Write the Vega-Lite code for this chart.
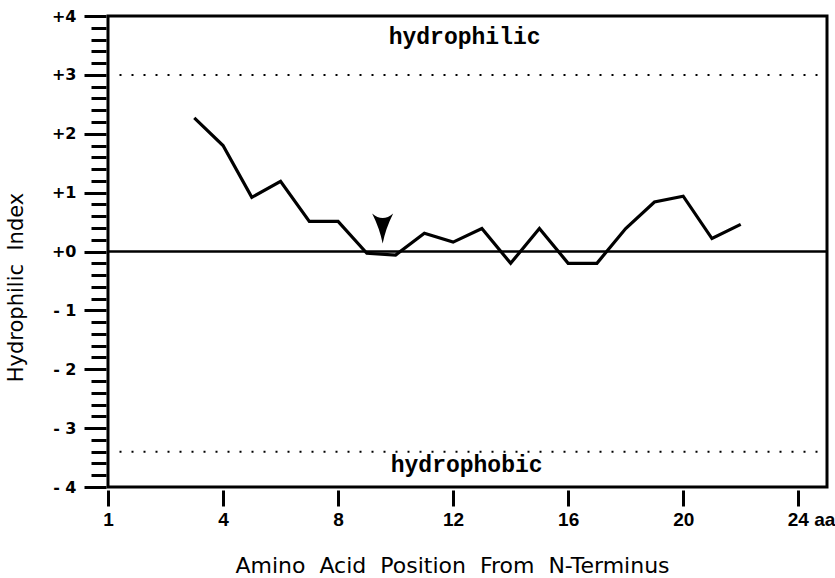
{
  "$schema": "https://vega.github.io/schema/vega-lite/v6.json",
  "autosize": "none",
  "width": 719,
  "height": 471,
  "padding": {"left": 108, "top": 16, "right": 8, "bottom": 91},
  "background": "white",
  "config": {"view": {"stroke": "black", "strokeWidth": 3}},
  "encoding": {
    "x": {
      "field": "pos", "type": "quantitative",
      "scale": {"domain": [0, 25], "nice": false, "zero": false},
      "axis": {
        "values": [0, 4, 8, 12, 16, 20, 24],
        "domain": false, "grid": false, "offset": 3,
        "tickColor": "black", "tickWidth": 3, "tickSize": 16,
        "labelExpr": "datum.value == 0 ? '1' : (datum.value == 24 ? '24 aa' : datum.label)",
        "labelAlign": {"condition": {"test": "datum.value == 24", "value": "left"}, "value": "center"},
        "labelOffset": {"condition": {"test": "datum.value == 24", "value": -11}, "value": 0},
        "labelFont": "Liberation Sans", "labelFontSize": 19, "labelFontWeight": "bold", "labelColor": "black",
        "labelPadding": 4,
        "title": "Amino\u00a0 Acid\u00a0 Position\u00a0 From\u00a0 N-Terminus",
        "titleFont": "DejaVu Sans", "titleFontSize": 22, "titleFontWeight": "normal", "titleColor": "black",
        "titleX": 344, "titleY": 75, "titleAlign": "center", "titleBaseline": "middle"
      }
    },
    "y": {
      "field": "val", "type": "quantitative",
      "scale": {"domain": [-4, 4], "nice": false, "zero": false},
      "axis": {
        "values": [-4, -3.8, -3.6, -3.4, -3.2, -3, -2.8, -2.6, -2.4, -2.2, -2, -1.8, -1.6, -1.4, -1.2, -1, -0.8, -0.6, -0.4, -0.2, 0, 0.2, 0.4, 0.6, 0.8, 1, 1.2, 1.4, 1.6, 1.8, 2, 2.2, 2.4, 2.6, 2.8, 3, 3.2, 3.4, 3.6, 3.8, 4],
        "domain": false, "grid": false, "offset": 2,
        "tickColor": "black", "tickWidth": 3,
        "tickSize": {"condition": {"test": "abs(datum.value - round(datum.value)) < 0.01", "value": 22}, "value": 15},
        "labelExpr": "abs(datum.value - round(datum.value)) < 0.01 ? ((datum.value >= 0 ? '+' : '- ') + abs(round(datum.value))) : ''",
        "labelFont": "DejaVu Sans", "labelFontSize": 16, "labelFontWeight": "bold", "labelColor": "black",
        "labelPadding": 8, "labelOverlap": false,
        "title": "Hydrophilic\u00a0 Index",
        "titleFont": "DejaVu Sans", "titleFontSize": 21, "titleFontWeight": "normal", "titleColor": "black",
        "titleX": -90, "titleY": 271, "titleAngle": -90, "titleAlign": "center", "titleBaseline": "middle"
      }
    }
  },
  "layer": [
    {
      "data": {"values": [{"pos": 0, "pos2": 25, "val": 0}]},
      "mark": {"type": "rule", "color": "black", "strokeWidth": 2.5},
      "encoding": {"x2": {"field": "pos2"}}
    },
    {
      "data": {"values": [{"pos": 0.4, "pos2": 24.7, "val": 3.0}, {"pos": 0.4, "pos2": 24.7, "val": -3.4}]},
      "mark": {"type": "rule", "color": "black", "strokeWidth": 2, "strokeDash": [2, 10]},
      "encoding": {"x2": {"field": "pos2"}}
    },
    {
      "data": {"values": [
        {"pos": 3, "val": 2.27}, {"pos": 4, "val": 1.80}, {"pos": 5, "val": 0.92}, {"pos": 6, "val": 1.19},
        {"pos": 7, "val": 0.51}, {"pos": 8, "val": 0.51}, {"pos": 9, "val": -0.03}, {"pos": 10, "val": -0.06},
        {"pos": 11, "val": 0.31}, {"pos": 12, "val": 0.16}, {"pos": 13, "val": 0.39}, {"pos": 14, "val": -0.20},
        {"pos": 15, "val": 0.39}, {"pos": 16, "val": -0.20}, {"pos": 17, "val": -0.20}, {"pos": 18, "val": 0.39},
        {"pos": 19, "val": 0.84}, {"pos": 20, "val": 0.94}, {"pos": 21, "val": 0.22}, {"pos": 22, "val": 0.46}
      ]},
      "mark": {"type": "line", "color": "black", "strokeWidth": 3.2}
    },
    {
      "data": {"values": [
        {"pos": 12.4, "val": 3.52, "label": "hydrophilic"},
        {"pos": 12.47, "val": -3.74, "label": "hydrophobic"}
      ]},
      "mark": {"type": "text", "font": "Liberation Mono", "fontWeight": "bold", "fontSize": 23, "color": "black", "align": "center", "baseline": "alphabetic"},
      "encoding": {"text": {"field": "label"}}
    },
    {
      "data": {"values": [{"pos": 9.55, "val": 0.39}]},
      "mark": {"type": "point", "filled": true, "color": "black", "opacity": 1, "strokeWidth": 0, "size": 900,
        "shape": "M-0.7,-1 Q0,-0.4 0.7,-1 Q0.2,0 0,1 Q-0.2,0 -0.7,-1 Z"}
    }
  ]
}
